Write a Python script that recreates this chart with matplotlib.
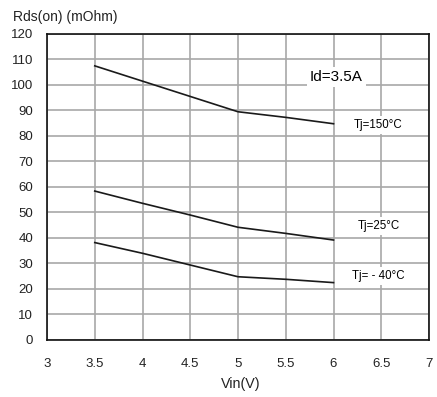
import matplotlib
matplotlib.use("Agg")
import matplotlib.pyplot as plt

plt.rcParams["font.family"] = ["Liberation Sans", "DejaVu Sans"]

# Data
vin = [3.5, 4.0, 4.5, 5.0, 5.5, 6.0]
rds_150 = [107.5, 101.5, 95.5, 89.5, 87.3, 84.8]
rds_25 = [58.4, 53.6, 49.0, 44.2, 41.8, 39.2]
rds_m40 = [38.2, 34.0, 29.4, 24.8, 23.8, 22.5]

x_ticks = [3, 3.5, 4, 4.5, 5, 5.5, 6, 6.5, 7]
y_ticks = list(range(0, 121, 10))

labels = ["Tj=150°C", "Tj=25°C", "Tj= - 40°C"]
label_y = [84.3, 44.7, 25.0]

fig = plt.figure(figsize=(4.37, 3.97), dpi=100)
ax = fig.add_axes([0.1076, 0.1436, 0.8741, 0.7708])

for series in (rds_150, rds_25, rds_m40):
    ax.plot(vin, series, color="#1a1a1a", linewidth=1.2, zorder=3)

ax.set_xlim(3, 7)
ax.set_ylim(0, 120)
ax.set_xticks(x_ticks)
ax.set_xticklabels([f"{t:g}" for t in x_ticks])
ax.set_yticks(y_ticks)
ax.tick_params(length=0, labelsize=9.5, colors="#222222")
ax.tick_params(axis="x", pad=13)
ax.tick_params(axis="y", pad=10)
ax.grid(True, color="#a8a8a8", linewidth=1.2, zorder=1)
ax.set_axisbelow(True)
for sp in ax.spines.values():
    sp.set_color("#111111")
    sp.set_linewidth(1.2)

box = dict(facecolor="white", edgecolor="none", pad=2)
ax.text(6.03, 103.1, "Id=3.5A", fontsize=11, ha="center", va="center",
        bbox=box, zorder=4)
for lab, yv in zip(labels, label_y):
    ax.text(6.47, yv, lab, fontsize=8.3, ha="center", va="center",
            bbox=box, zorder=4)

fig.text(0.03, 0.958, "Rds(on) (mOhm)", fontsize=10, ha="left", va="center",
         color="#222222")
fig.text(0.55, 0.033, "Vin(V)", fontsize=10.3, ha="center", va="center",
         color="#222222")

fig.savefig("out.png", dpi=100)
